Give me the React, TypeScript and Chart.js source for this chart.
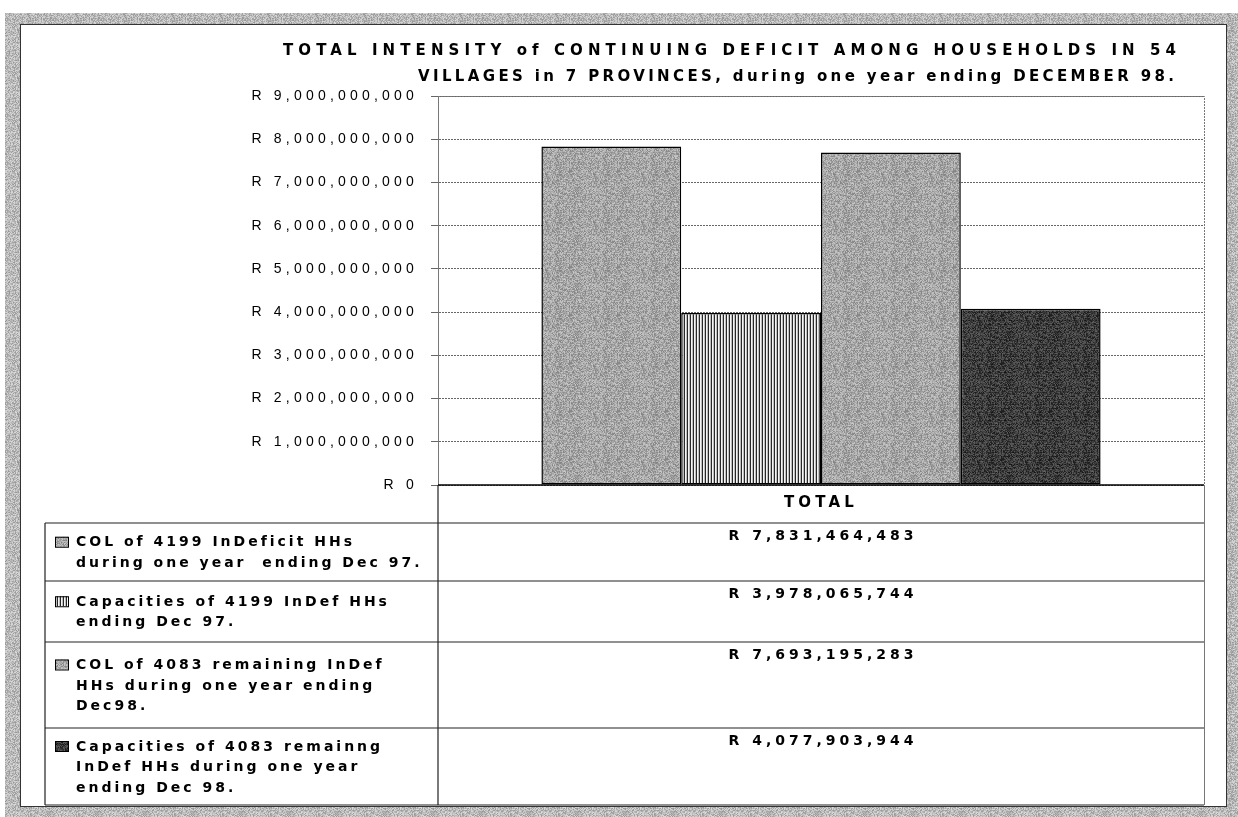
import React, { useEffect, useRef } from 'react';
import { Chart, registerables } from 'chart.js';

Chart.register(...registerables);

// ---- data ----
const categories = ['TOTAL'];
const seriesLabels: string[][] = [
  ['COL of 4199 InDeficit HHs', 'during one year  ending Dec 97.'],
  ['Capacities of 4199 InDef HHs', 'ending Dec 97.'],
  ['COL of 4083 remaining InDef', 'HHs during one year ending', 'Dec98.'],
  ['Capacities of 4083 remainng', 'InDef HHs during one year', 'ending Dec 98.'],
];
const seriesValues = [7831464483, 3978065744, 7693195283, 4077903944];
const seriesFills = ['light', 'stripe', 'light', 'dark'];
const yMin = 0;
const yMax = 9000000000;
const yStep = 1000000000;
const titleLines = [
  'TOTAL INTENSITY of CONTINUING DEFICIT AMONG HOUSEHOLDS IN 54',
  'VILLAGES in 7 PROVINCES, during one year ending DECEMBER 98.',
];

const W = 1238;
const H = 817;

function hash(x: number, y: number): number {
  let h = (x * 374761393 + y * 668265263) | 0;
  h = (h ^ (h >>> 13)) * 1274126177;
  h = h ^ (h >>> 16);
  return ((h >>> 0) % 1000) / 1000; // 0..1 deterministic
}

function makePattern(kind: string): CanvasPattern {
  const size = 48;
  const c = document.createElement('canvas');
  c.width = size;
  c.height = size;
  const g = c.getContext('2d')!;
  const img = g.createImageData(size, size);
  for (let y = 0; y < size; y++) {
    for (let x = 0; x < size; x++) {
      const h = hash(x, y) - 0.5;
      let v: number;
      if (kind === 'light') v = 165 + h * 70;
      else if (kind === 'dark') v = 62 + h * 70 + (y % 4 === 0 ? -10 : 0);
      else if (kind === 'frame') v = 184 + h * 70;
      else {
        const m = x % 3;
        v = m === 0 ? 40 : m === 1 ? 245 : 190;
      }
      v = Math.max(0, Math.min(255, Math.round(v)));
      const i = (y * size + x) * 4;
      img.data[i] = v;
      img.data[i + 1] = v;
      img.data[i + 2] = v;
      img.data[i + 3] = 255;
    }
  }
  g.putImageData(img, 0, 0);
  return g.createPattern(c, 'repeat')!;
}

function fitText(ctx: CanvasRenderingContext2D, text: string, left: number, right: number, y: number) {
  (ctx as any).letterSpacing = '0px';
  const w = ctx.measureText(text).width;
  const s = (right - left - w) / (text.length - 1);
  (ctx as any).letterSpacing = s + 'px';
  ctx.textAlign = 'left';
  ctx.fillText(text, left, y);
}

export default function App() {
  const ref = useRef<HTMLCanvasElement>(null);

  useEffect(() => {
    const canvas = ref.current!;
    const pats: Record<string, CanvasPattern> = {
      light: makePattern('light'),
      dark: makePattern('dark'),
      stripe: makePattern('stripe'),
      frame: makePattern('frame'),
    };

    const rowLines = [581, 642, 728, 805];

    const deco = {
      id: 'deco',
      beforeDraw(chart: any) {
        const ctx: CanvasRenderingContext2D = chart.ctx;
        ctx.save();
        ctx.fillStyle = '#fff';
        ctx.fillRect(0, 0, W, H);
        ctx.fillStyle = pats.frame;
        ctx.fillRect(5, 13, W - 5, H - 13);
        ctx.fillStyle = '#fff';
        ctx.fillRect(21, 25, 1205, 781);
        ctx.strokeStyle = '#333';
        ctx.lineWidth = 1;
        ctx.strokeRect(20.5, 24.5, 1206, 782);
        ctx.restore();
        (ctx as any).letterSpacing = '4.2px';
      },
      afterDraw(chart: any) {
        const ctx: CanvasRenderingContext2D = chart.ctx;
        const area = chart.chartArea;
        const xs = chart.scales.x;
        const rows = [xs.bottom, ...rowLines];
        const tableLeft = 45;
        const bottom = rows[rows.length - 1];
        ctx.save();
        // plot border (top / right), dotted
        ctx.strokeStyle = '#777';
        ctx.lineWidth = 1;
        ctx.setLineDash([2, 1]);
        ctx.beginPath();
        ctx.moveTo(area.left, Math.round(area.top) + 0.5);
        ctx.lineTo(Math.round(area.right) + 0.5, Math.round(area.top) + 0.5);
        ctx.lineTo(Math.round(area.right) + 0.5, area.bottom);
        ctx.stroke();
        ctx.setLineDash([]);
        ctx.beginPath();
        ctx.moveTo(Math.round(area.right) + 0.5, area.bottom);
        ctx.lineTo(Math.round(area.right) + 0.5, bottom);
        ctx.stroke();

        // x axis line
        ctx.strokeStyle = '#000';
        ctx.lineWidth = 1.5;
        ctx.beginPath();
        ctx.moveTo(area.left, area.bottom);
        ctx.lineTo(area.right, area.bottom);
        ctx.stroke();

        // table grid
        ctx.strokeStyle = '#222';
        ctx.lineWidth = 1.2;
        ctx.beginPath();
        rows.forEach((y) => {
          ctx.moveTo(tableLeft, y);
          ctx.lineTo(area.right, y);
        });
        ctx.moveTo(tableLeft, rows[0]);
        ctx.lineTo(tableLeft, bottom);
        ctx.moveTo(area.left, area.bottom);
        ctx.lineTo(area.left, bottom);
        ctx.stroke();

        // values
        ctx.fillStyle = '#000';
        ctx.font = 'bold 14px "DejaVu Sans"';
        (ctx as any).letterSpacing = '4px';
        ctx.textAlign = 'center';
        ctx.textBaseline = 'middle';
        const cx = xs.getPixelForValue(0);
        seriesValues.forEach((v, i) => {
          ctx.fillText('R ' + v.toLocaleString('en-US'), cx + 2, rows[i] + 13);
        });

        // legend column
        const lineH = 20.5;
        ctx.textAlign = 'left';
        (ctx as any).letterSpacing = '3px';
        seriesLabels.forEach((lines, i) => {
          const mid = (rows[i] + rows[i + 1]) / 2;
          const first = mid - ((lines.length - 1) * lineH) / 2;
          ctx.fillStyle = pats[seriesFills[i]];
          ctx.fillRect(55, first - 5, 13, 10);
          ctx.strokeStyle = '#000';
          ctx.lineWidth = 1;
          ctx.strokeRect(55.5, first - 4.5, 13, 10);
          ctx.fillStyle = '#000';
          lines.forEach((t, j) => {
            ctx.fillText(t, 76, first + j * lineH + 1);
          });
        });

        // title
        ctx.font = 'bold 15px "DejaVu Sans"';
        ctx.textBaseline = 'middle';
        fitText(ctx, titleLines[0], 283, 1176, 51);
        fitText(ctx, titleLines[1], 418, 1174, 77);
        ctx.restore();
        (ctx as any).letterSpacing = '0px';
      },
    };

    const chart = new Chart(canvas, {
      type: 'bar',
      data: {
        labels: categories,
        datasets: seriesValues.map((v, i) => ({
          label: seriesLabels[i].join(' '),
          data: [v],
          backgroundColor: pats[seriesFills[i]],
          borderColor: '#000',
          borderWidth: 1.5,
          borderSkipped: false,
          categoryPercentage: 0.73,
          barPercentage: 1.0,
        })),
      },
      options: {
        responsive: false,
        animation: false,
        devicePixelRatio: 1,
        events: [],
        layout: { padding: { left: 20, top: 96, right: W - 1204, bottom: H - 523 } },
        plugins: {
          legend: { display: false },
          title: { display: false },
          tooltip: { enabled: false },
        },
        scales: {
          x: {
            type: 'category',
            grid: { display: false, drawTicks: false },
            border: { display: false },
            ticks: {
              color: '#000',
              font: { family: 'DejaVu Sans', size: 15, weight: 'bold' },
              padding: 9,
            },
            afterFit: (s: any) => {
              s.height = 38;
            },
          },
          y: {
            min: yMin,
            max: yMax,
            grid: { color: '#666', lineWidth: 1, tickLength: 7 },
            border: { display: true, color: '#777', dash: [2, 1] },
            ticks: {
              stepSize: yStep,
              color: '#000',
              font: { family: 'Liberation Sans', size: 14 },
              padding: 13,
              callback: (v: any) => 'R ' + Number(v).toLocaleString('en-US'),
            },
            afterFit: (s: any) => {
              s.width = 418;
            },
          },
        },
      },
      plugins: [deco],
    } as any);

    return () => chart.destroy();
  }, []);

  return (
    <div style={{ position: 'absolute', left: 0, top: 0, width: W, height: H }}>
      <canvas ref={ref} width={W} height={H} style={{ display: 'block', width: W, height: H }} />
    </div>
  );
}
